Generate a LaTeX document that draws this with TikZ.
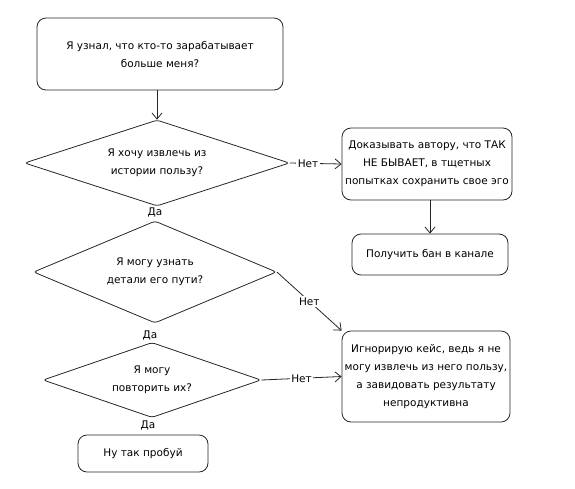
\documentclass[tikz,border=0pt]{standalone}
\usepackage{fontspec}
\setmainfont{DejaVu Sans}
\usetikzlibrary{shapes.geometric, arrows.meta, positioning}

\begin{document}
\begin{tikzpicture}[x=1pt, y=-1pt, line width=0.8pt, draw=black!85,
	font=\fontsize{10.5}{18}\selectfont,
	blok/.style={draw, rounded corners=9pt, align=center, inner sep=2pt},
	romb/.style={draw, diamond, aspect=3, align=center, inner sep=0pt, rounded corners=3pt},
	arr/.style={-{Straight Barb[length=6pt,width=10pt]}},
	lbl/.style={fill=white, inner sep=1.5pt}]
	\useasboundingbox (0,0) rectangle (575,488);
	\node[blok, minimum width=246pt, minimum height=72pt] (1) at (160, 54) {Я узнал, что кто-то зарабатывает\\больше меня?};
	\node[romb, minimum width=265pt, minimum height=86pt] (2) at (157, 163) {Я хочу извлечь из\\истории пользу?};
	\node[blok, minimum width=170pt, minimum height=72pt] (3) at (427, 164) {Доказывать автору, что ТАК\\НЕ БЫВАЕТ, в тщетных\\попытках сохранить свое эго};
	\node[blok, minimum width=156pt, minimum height=41pt] (4) at (430, 254.5) {Получить бан в канале};
	\node[romb, minimum width=243pt, minimum height=102pt] (5) at (155, 272) {Я могу узнать\\детали его пути?};
	\node[romb, minimum width=218pt, minimum height=75pt] (6) at (152, 380) {Я могу\\повторить их?};
	\node[blok, minimum width=168pt, minimum height=91pt] (7) at (426, 376.5) {Игнорирую кейс, ведь я не\\могу извлечь из него пользу,\\а завидовать результату\\непродуктивна};
	\node[blok, minimum width=130pt, minimum height=37pt] (8) at (143, 453.5) {Ну так пробуй};
	\node (9) at (155, 212) {Да};
	\node (10) at (150, 335) {Да};
	\node (11) at (148, 425) {Да};
	\draw[arr] (1.south -| 2.north) to (2.north);
	\draw[arr] (2.east) to node[lbl, pos=0.35] {Нет} (3.west);
	\draw[arr] (3.south -| 4.north) to (4.north);
	\draw[arr] (5.east) to node[lbl] {Нет} (7.north west);
	\draw[arr] (6.east) to node[lbl] {Нет} (7.west);
\end{tikzpicture}
\end{document}
